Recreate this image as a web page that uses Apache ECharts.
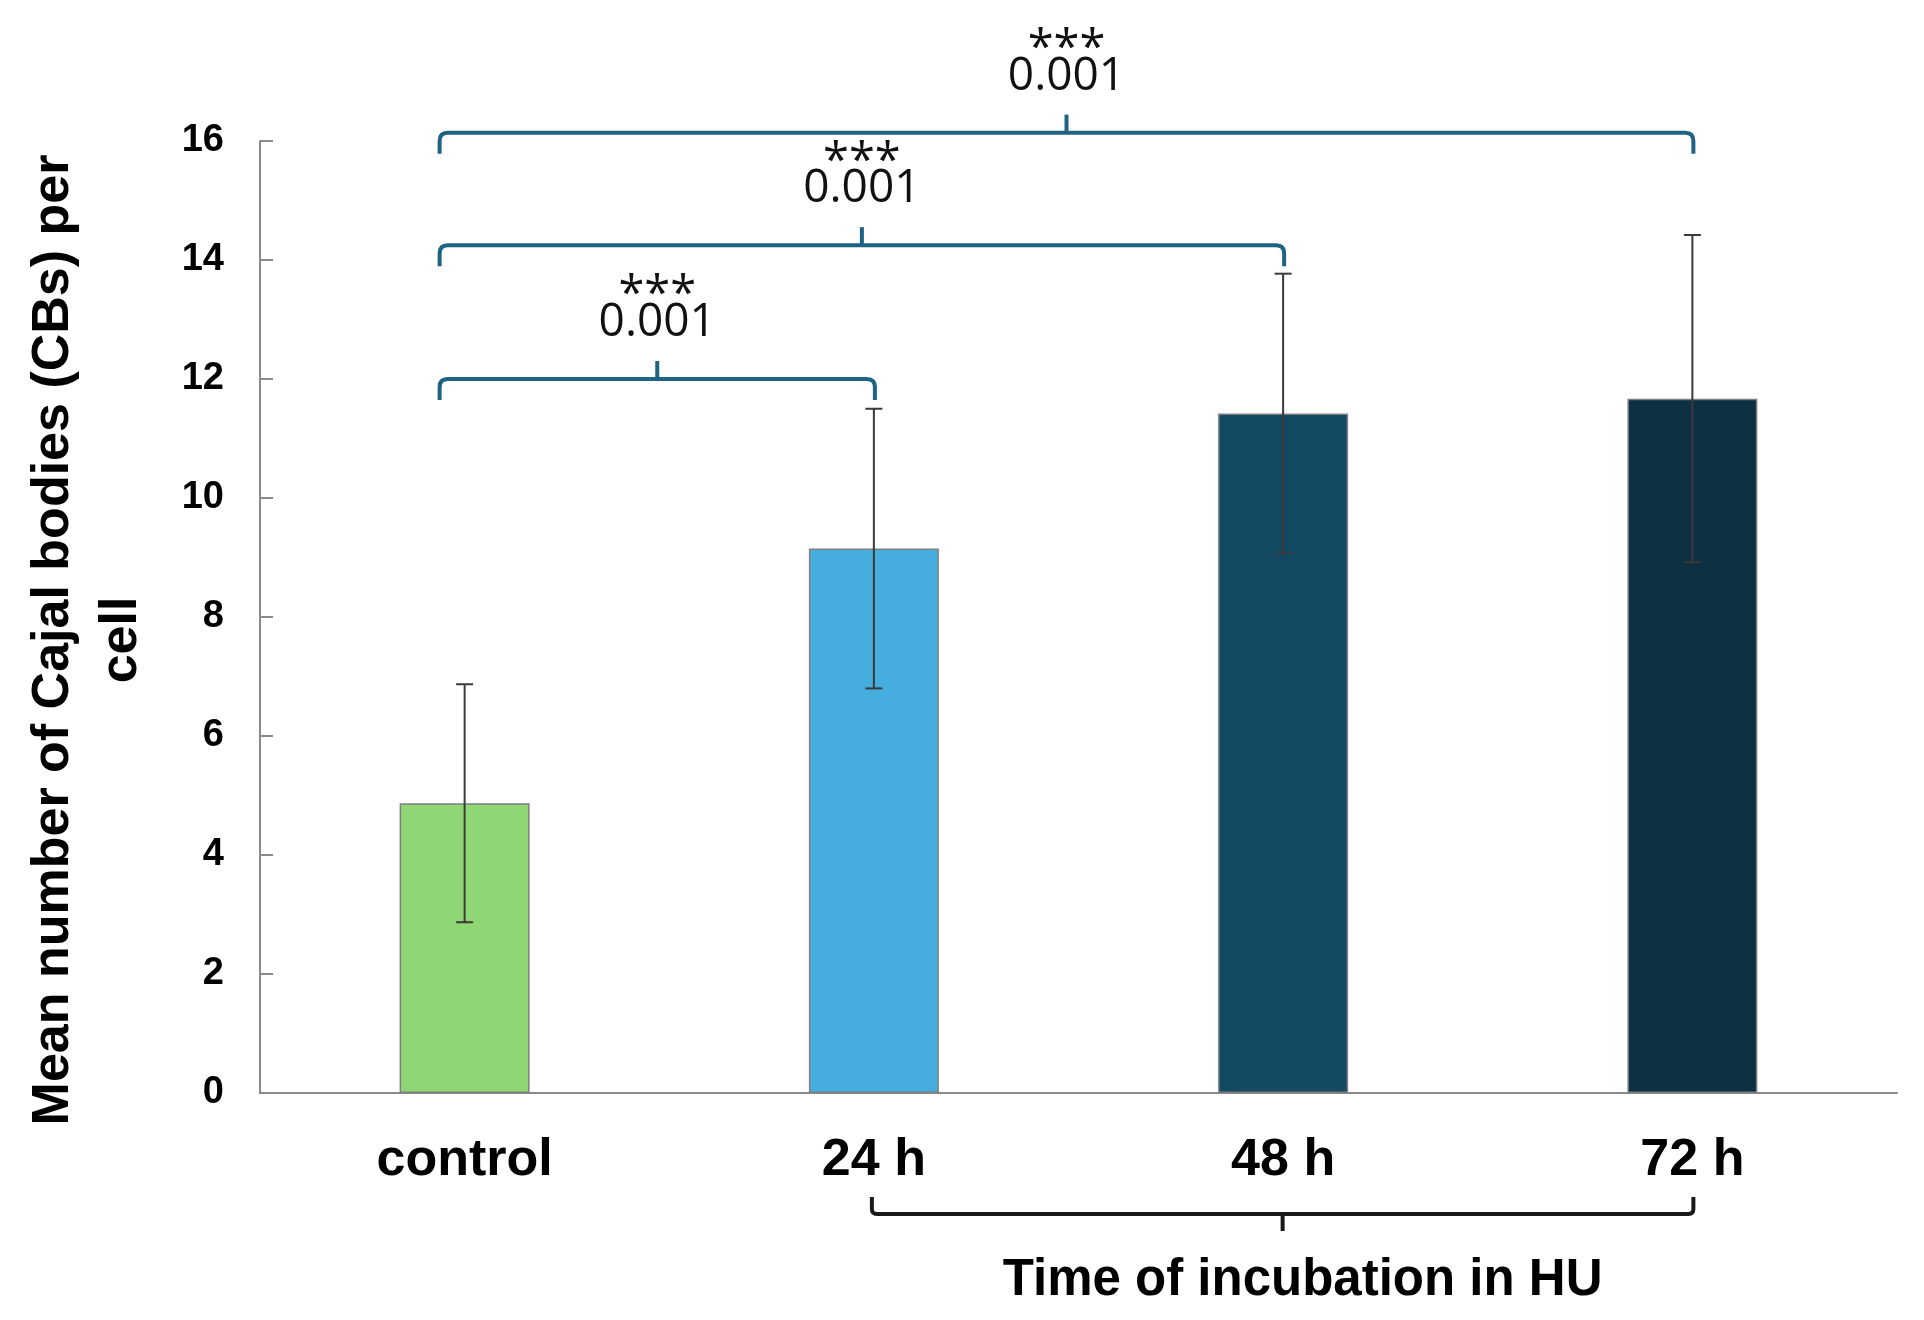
<!DOCTYPE html>
<html><head><meta charset="utf-8">
<script src="https://cdn.jsdelivr.net/npm/echarts@6/dist/echarts.min.js"></script>
<style>html,body{margin:0;padding:0;background:#fff}#c{width:1924px;height:1320px}</style>
</head><body><div id="c"></div>
<script>
// ---- data ----
const categories = ['control', '24 h', '48 h', '72 h'];
const means = [4.87, 9.15, 11.42, 11.67];
const errors = [2.0, 2.35, 2.35, 2.75];
const barColors = ['#8fd674', '#46aede', '#134963', '#0d3043'];
const yMin = 0, yMax = 16, yInterval = 2;
const comparisons = [[0, 1], [0, 2], [0, 3]];
const pValues = ['0.001', '0.001', '0.001'];
const stars = ['***', '***', '***'];
const bracketLevels = [12.0, 14.25, 16.14];
const groupRange = [1, 3];
const groupLabel = 'Time of incubation in HU';
const yTitle = 'Mean number of Cajal bodies (CBs) per\ncell';

// ---- chart ----
const FONT = '"Liberation Sans", Arial, sans-serif';
const PFONT = '"Open Sans", "Noto Sans", sans-serif';
const axisColor = '#8a8a8a';
const bracketColor = '#1f6382';
const chart = echarts.init(document.getElementById('c'), null, {renderer: 'canvas'});

function renderErr(params, api) {
  const i = api.value(0), m = api.value(1), e = api.value(2);
  const top = api.coord([i, m + e]), bot = api.coord([i, m - e]);
  const x = top[0], w = 8.5;
  const st = {stroke: '#3a3a3a', lineWidth: 2};
  return {type: 'group', children: [
    {type: 'line', shape: {x1: x, y1: top[1], x2: x, y2: bot[1]}, style: st},
    {type: 'line', shape: {x1: x - w, y1: top[1], x2: x + w, y2: top[1]}, style: st},
    {type: 'line', shape: {x1: x - w, y1: bot[1], x2: x + w, y2: bot[1]}, style: st}
  ]};
}

function renderBracket(params, api) {
  const k = params.dataIndex;
  const a = comparisons[k][0], b = comparisons[k][1];
  const lvl = bracketLevels[k];
  const p1 = api.coord([a, lvl]);
  const p2 = api.coord([b, lvl]);
  const x1 = p1[0] - 25, x2 = p2[0] + 1, y = p1[1];
  const drop = 21, r = 8, notch = 18;
  const cx = (x1 + x2) / 2;
  const path = `M${x1} ${y + drop} L${x1} ${y + r} Q${x1} ${y} ${x1 + r} ${y} L${x2 - r} ${y} Q${x2} ${y} ${x2} ${y + r} L${x2} ${y + drop}`;
  return {type: 'group', children: [
    {type: 'path', shape: {pathData: path}, style: {fill: 'none', stroke: bracketColor, lineWidth: 4}},
    {type: 'line', shape: {x1: cx, y1: y, x2: cx, y2: y - notch}, style: {stroke: bracketColor, lineWidth: 4}},
    {type: 'text', style: {text: pValues[k], x: cx, y: y - 56, align: 'center', verticalAlign: 'middle',
      font: '46px ' + PFONT, fill: '#111'}},
    {type: 'text', style: {text: stars[k], x: cx, y: y - 83, align: 'center', verticalAlign: 'middle',
      font: '47px ' + PFONT, fill: '#111'}}
  ]};
}

function renderGroup(params, api) {
  const p1 = api.coord([groupRange[0], 0]);
  const p2 = api.coord([groupRange[1], 0]);
  const x1 = p1[0] - 2, x2 = p2[0] + 1, base = p1[1];
  const y = base + 121, up = 17, r = 5, notch = 17;
  const cx = (x1 + x2) / 2;
  const path = `M${x1} ${y - up} L${x1} ${y - r} Q${x1} ${y} ${x1 + r} ${y} L${x2 - r} ${y} Q${x2} ${y} ${x2} ${y - r} L${x2} ${y - up}`;
  return {type: 'group', children: [
    {type: 'path', shape: {pathData: path}, style: {fill: 'none', stroke: '#1a1a1a', lineWidth: 4}},
    {type: 'line', shape: {x1: cx, y1: y, x2: cx, y2: y + notch}, style: {stroke: '#1a1a1a', lineWidth: 4}},
    {type: 'text', style: {text: groupLabel, x: cx + 20, y: base + 188, align: 'center', verticalAlign: 'middle',
      font: 'bold 51px ' + FONT, fill: '#000'}}
  ]};
}

const option = {
  animation: false,
  backgroundColor: '#fff',
  grid: {left: 260, right: 27, top: 141, bottom: 227},
  xAxis: [{
    type: 'category', data: categories,
    axisLine: {lineStyle: {color: axisColor, width: 2}},
    axisTick: {inside: true, length: 18, lineStyle: {color: axisColor, width: 2}},
    axisLabel: {margin: 42, fontSize: 52, fontWeight: 'bold', color: '#000', fontFamily: FONT}
  }, {
    type: 'category', data: categories, position: 'bottom',
    axisLine: {show: false},
    axisTick: {inside: false, length: 18, lineStyle: {color: axisColor, width: 2}},
    axisLabel: {show: false}
  }],
  yAxis: {
    type: 'value', min: yMin, max: yMax, interval: yInterval,
    axisLine: {show: true, lineStyle: {color: axisColor, width: 2}},
    axisTick: {show: true, inside: true, length: 13, lineStyle: {color: axisColor, width: 2}},
    splitLine: {show: false},
    axisLabel: {margin: 36, fontSize: 38, fontWeight: 'bold', color: '#000', fontFamily: FONT}
  },
  graphic: [{
    type: 'text', x: 88, y: 640, rotation: Math.PI / 2,
    style: {text: yTitle, align: 'center', verticalAlign: 'middle', font: 'bold 52px ' + FONT,
      lineHeight: 68, fill: '#000'}
  }],
  series: [{
    type: 'bar', barWidth: 130,
    data: means.map((v, i) => ({value: v, itemStyle: {color: barColors[i]}})),
    itemStyle: {borderColor: '#7f7f7f', borderWidth: 1.5}
  }, {
    type: 'custom', renderItem: renderErr, clip: false, z: 5,
    encode: {x: 0, y: 1},
    data: means.map((m, i) => [i, m, errors[i]])
  }, {
    type: 'custom', renderItem: renderBracket, clip: false, z: 6,
    encode: {x: 0, y: 1},
    data: comparisons.map((c, k) => [c[0], bracketLevels[k]])
  }, {
    type: 'custom', renderItem: renderGroup, clip: false, z: 6,
    encode: {x: 0, y: 1},
    data: [[groupRange[0], 0]]
  }]
};
chart.setOption(option);
</script>
</body></html>
